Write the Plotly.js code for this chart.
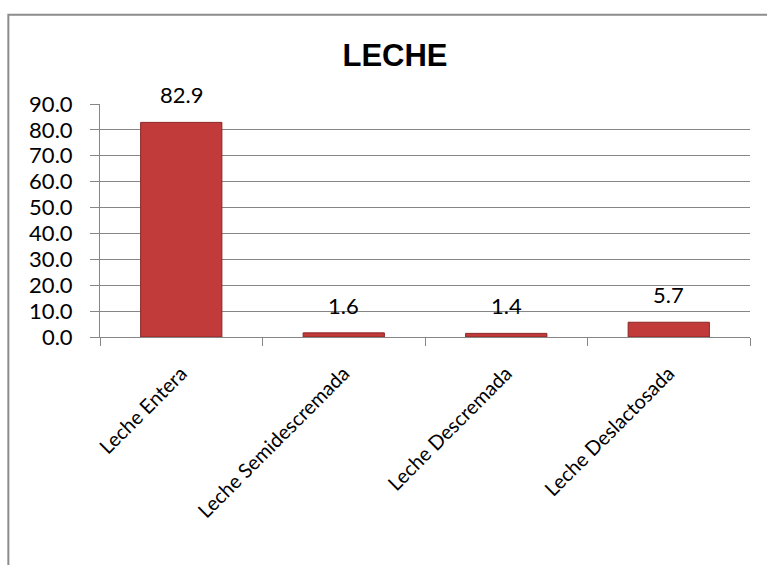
<!DOCTYPE html>
<html>
<head>
<meta charset="utf-8">
<script src="https://cdn.plot.ly/plotly-3.0.1.min.js"></script>
<style>
  html, body { margin: 0; padding: 0; background: #fff; }
  #chart { width: 767px; height: 565px; }
</style>
</head>
<body>
<div id="chart"></div>
<script>
const categories = ["Leche Entera", "Leche Semidescremada", "Leche Descremada", "Leche Deslactosada"];
const values = [82.9, 1.6, 1.4, 5.7];
const yTickValues = [0, 10, 20, 30, 40, 50, 60, 70, 80, 90];
const yTickLabels = yTickValues.map(v => v.toFixed(1));
const chartTitle = "LECHE";

const FONT = "Lato, 'Open Sans', sans-serif";

const trace = {
  type: "bar",
  x: categories,
  y: values,
  marker: { color: "#C13B3B", line: { color: "#8A2626", width: 1 } },
  width: 0.5,
  hoverinfo: "x+y"
};

const labelAnnotations = categories.map((c, i) => ({
  x: c, y: values[i],
  xref: "x", yref: "y",
  text: values[i].toFixed(1),
  showarrow: false,
  yanchor: "bottom",
  xanchor: "center",
  yshift: 12,
  font: { family: FONT, size: 22, color: "#000" }
}));

const layout = {
  width: 767,
  height: 565,
  margin: { l: 100, r: 17, t: 104, b: 228 },
  paper_bgcolor: "#fff",
  plot_bgcolor: "#fff",
  showlegend: false,
  title: {
    text: "<b>" + chartTitle + "</b>",
    font: { family: "Liberation Sans, Arial, sans-serif", size: 31, color: "#000" },
    x: 0.515, xanchor: "center",
    y: 0.903, yanchor: "middle"
  },
  xaxis: {
    type: "category",
    tickson: "boundaries",
    ticks: "outside",
    ticklen: 8,
    tickcolor: "#868686",
    tickwidth: 1,
    ticklabelstandoff: 16,
    showline: true,
    linecolor: "#868686",
    linewidth: 1,
    showgrid: false,
    tickangle: -45,
    tickfont: { family: FONT, size: 20, color: "#000" }
  },
  yaxis: {
    range: [0, 90],
    tickvals: yTickValues,
    ticktext: yTickLabels,
    ticks: "outside",
    ticklen: 9,
    tickcolor: "#868686",
    ticklabelstandoff: 13,
    showline: true,
    linecolor: "#868686",
    linewidth: 1,
    showgrid: true,
    gridcolor: "#868686",
    gridwidth: 1,
    zeroline: false,
    tickfont: { family: FONT, size: 22, color: "#000" }
  },
  annotations: labelAnnotations,
  shapes: [{
    type: "rect",
    xref: "paper", yref: "paper",
    x0: -0.141, x1: 1.05,
    y0: -1.05, y1: 1.383,
    line: { color: "#8c8c8c", width: 2 },
    fillcolor: "rgba(0,0,0,0)",
    layer: "below"
  }]
};

Plotly.newPlot("chart", [trace], layout, { displayModeBar: false, staticPlot: true });
</script>
</body>
</html>
